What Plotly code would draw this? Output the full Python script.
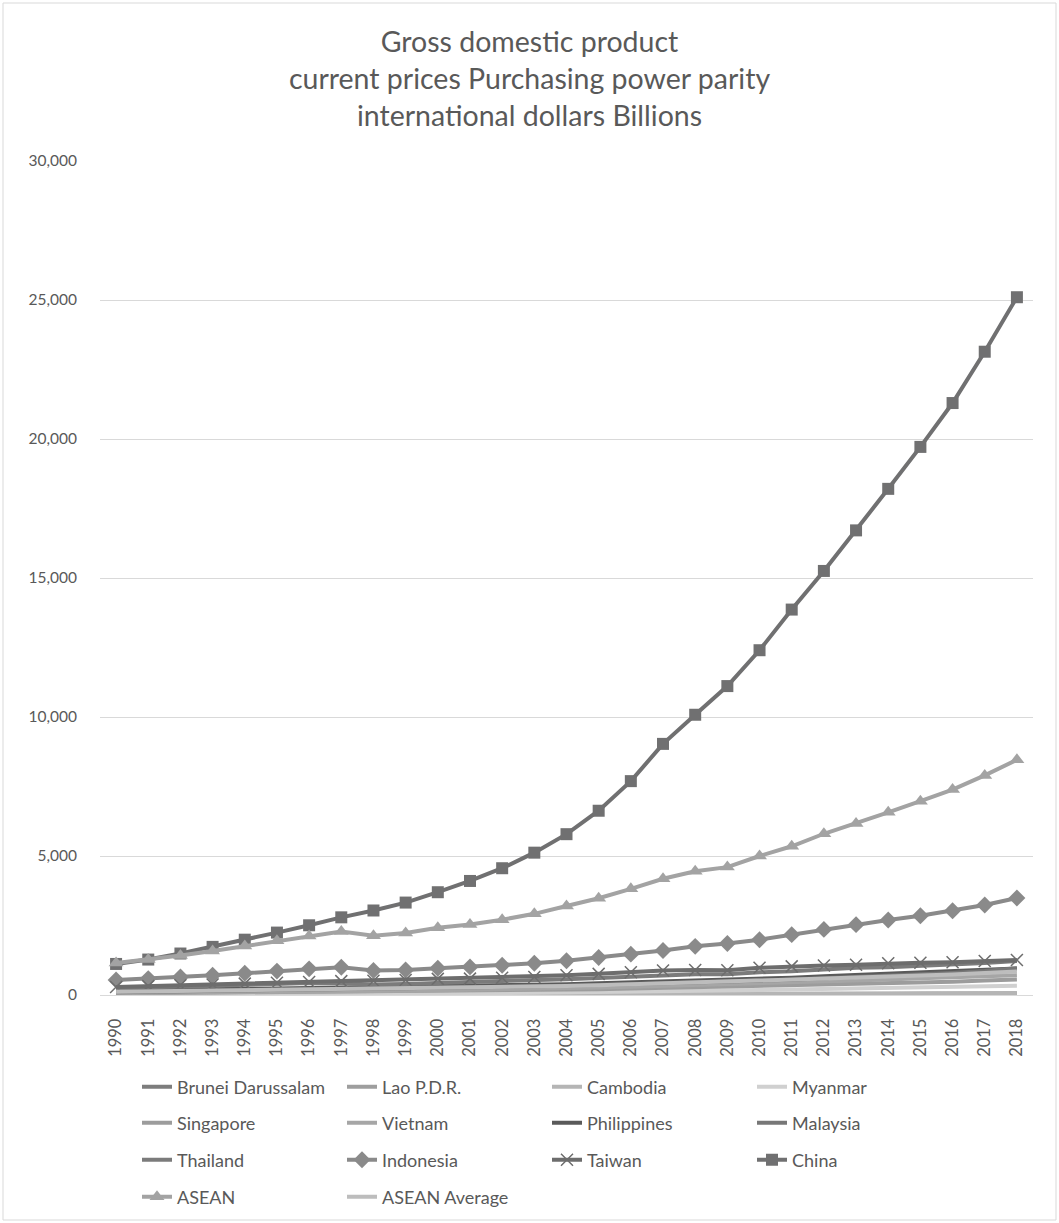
import plotly.graph_objects as go

years = [str(y) for y in range(1990, 2019)]

brunei = [14, 15, 15, 16, 16, 17, 18, 18, 18, 19, 20, 21, 22, 23, 24, 25, 26, 27, 27, 27, 28, 30, 31, 31, 31, 31, 32, 33, 34]
lao = [5, 5, 6, 6, 7, 8, 8, 9, 9, 10, 11, 12, 13, 14, 15, 17, 19, 21, 24, 26, 29, 32, 35, 38, 41, 44, 47, 50, 53]
cambodia = [6, 7, 8, 8, 9, 10, 11, 12, 12, 13, 15, 16, 18, 20, 23, 26, 30, 34, 37, 38, 42, 46, 50, 54, 58, 62, 65, 68, 72]
myanmar = [25, 26, 27, 30, 32, 35, 38, 41, 44, 48, 55, 62, 70, 80, 90, 100, 115, 130, 145, 160, 180, 200, 220, 240, 260, 280, 290, 310, 330]
singapore = [60, 68, 74, 82, 92, 100, 110, 120, 120, 128, 143, 146, 155, 168, 188, 210, 230, 255, 265, 270, 310, 340, 365, 390, 420, 450, 480, 520, 560]
vietnam = [70, 76, 84, 93, 103, 115, 128, 140, 148, 155, 170, 185, 200, 220, 245, 270, 300, 330, 355, 380, 420, 460, 500, 530, 560, 600, 640, 680, 710]
philippines = [180, 185, 195, 205, 220, 235, 255, 270, 275, 290, 310, 320, 340, 360, 390, 420, 450, 490, 520, 540, 580, 620, 670, 720, 770, 810, 860, 910, 950]
malaysia = [100, 115, 130, 150, 170, 190, 210, 225, 210, 220, 250, 260, 280, 300, 330, 360, 390, 430, 460, 460, 510, 550, 600, 640, 690, 740, 790, 860, 960]
thailand = [240, 270, 300, 330, 360, 400, 430, 420, 380, 400, 430, 450, 480, 530, 570, 610, 660, 720, 750, 750, 820, 850, 930, 980, 1000, 1040, 1090, 1150, 1220]
indonesia = [540, 590, 650, 710, 780, 860, 940, 1000, 880, 900, 960, 1010, 1070, 1140, 1230, 1350, 1470, 1600, 1750, 1850, 1990, 2170, 2360, 2530, 2700, 2850, 3030, 3240, 3490]
taiwan = [290, 320, 350, 380, 410, 440, 470, 500, 510, 540, 580, 590, 620, 650, 710, 760, 820, 880, 900, 890, 980, 1030, 1060, 1090, 1140, 1160, 1180, 1220, 1260]
china = [1117, 1275, 1492, 1731, 1990, 2245, 2508, 2794, 3040, 3325, 3697, 4102, 4560, 5120, 5785, 6628, 7693, 9033, 10081, 11112, 12402, 13864, 15254, 16713, 18207, 19716, 21293, 23140, 25100]
asean = [1150, 1280, 1420, 1580, 1760, 1950, 2120, 2280, 2130, 2230, 2420, 2540, 2710, 2920, 3200, 3480, 3820, 4180, 4450, 4600, 5000, 5350, 5800, 6170, 6570, 6970, 7390, 7900, 8460]
asean_avg = [115, 128, 142, 158, 176, 195, 212, 228, 213, 223, 242, 254, 271, 292, 320, 348, 382, 418, 445, 460, 500, 535, 580, 617, 657, 697, 739, 790, 846]

FONT = "Lato"
TEXT = "#595959"
W, H = 1059, 1223

# name, values, colour, marker symbol, legend row
series = [
    ("Brunei Darussalam", brunei, "#7d7d7d", None, "legend"),
    ("Lao P.D.R.", lao, "#9e9e9e", None, "legend"),
    ("Cambodia", cambodia, "#b5b5b5", None, "legend"),
    ("Myanmar", myanmar, "#d0d0d0", None, "legend"),
    ("Singapore", singapore, "#9c9c9c", None, "legend2"),
    ("Vietnam", vietnam, "#a6a6a6", None, "legend2"),
    ("Philippines", philippines, "#5a5a5a", None, "legend2"),
    ("Malaysia", malaysia, "#777777", None, "legend2"),
    ("Thailand", thailand, "#7b7b7b", None, "legend3"),
    ("Indonesia", indonesia, "#8a8a8a", "diamond", "legend3"),
    ("Taiwan", taiwan, "#6d6d6d", "x-thin-open", "legend3"),
    ("China", china, "#707071", "square", "legend3"),
    ("ASEAN", asean, "#a3a3a3", "triangle-up", "legend4"),
    ("ASEAN Average", asean_avg, "#bdbdbd", None, "legend4"),
]

fig = go.Figure()
for name, vals, color, symbol, leg in series:
    if symbol is None:
        mode = "lines"
        marker = None
    elif symbol == "x-thin-open":
        mode = "lines+markers"
        marker = dict(symbol=symbol, size=12, color=color, line=dict(color=color, width=1.5))
    else:
        mode = "lines+markers"
        marker = dict(symbol=symbol, size=13 if symbol != "square" else 12, color=color,
                      line=dict(width=0))
    fig.add_trace(go.Scatter(
        x=years, y=vals, name=name, mode=mode, legend=leg,
        line=dict(color=color, width=4), marker=marker,
    ))

# plot area: x 100..1033 px, y 161..995 px
L, R, T, B = 100, 26, 161, 228
PW, PH = W - L - R, H - T - B


def px_x(p):
    return (p - L) / PW


def px_y(p):
    return (H - B - p) / PH


legend_common = dict(
    orientation="h", xref="container", yref="container",
    xanchor="left", yanchor="middle",
    entrywidth=160, entrywidthmode="pixels",
    bgcolor="rgba(0,0,0,0)",
    font=dict(family=FONT, size=18, color=TEXT),
    itemclick=False, itemdoubleclick=False,
)
rows_y = [1087, 1123, 1160, 1197]
legend_x = 137 / W


def legend_row(i):
    return dict(legend_common, x=legend_x, y=1 - rows_y[i] / H)


fig.update_layout(
    width=W, height=H,
    margin=dict(l=L, r=R, t=T, b=B, autoexpand=False),
    paper_bgcolor="white", plot_bgcolor="white",
    title=dict(
        text="Gross domestic product<br>current prices Purchasing power parity<br>international dollars Billions",
        x=0.5, xanchor="center", y=1 - 52 / H, yanchor="middle",
        font=dict(family=FONT, size=28.5, color=TEXT),
    ),
    xaxis=dict(
        type="category", range=[-0.5, len(years) - 0.5], tickangle=-90, showgrid=False,
        showline=True, linecolor="#d9d9d9", linewidth=1,
        ticks="", tickfont=dict(family=FONT, size=16.5, color=TEXT),
        ticklabelstandoff=16, zeroline=False, automargin=False,
    ),
    yaxis=dict(
        range=[0, 30000], dtick=5000, tickformat=",d",
        showgrid=True, gridcolor="#d9d9d9", gridwidth=1,
        zeroline=False, showline=False, ticks="",
        tickfont=dict(family=FONT, size=15.5, color=TEXT),
        ticklabelstandoff=22, automargin=False,
    ),
    legend=legend_row(0),
    legend2=legend_row(1),
    legend3=legend_row(2),
    legend4=legend_row(3),
    showlegend=True,
)

# thin frame around the whole chart
fig.add_shape(
    type="rect", xref="paper", yref="paper",
    x0=px_x(3), x1=px_x(1056), y0=px_y(1220), y1=px_y(3),
    line=dict(color="#d9d9d9", width=1), fillcolor="rgba(0,0,0,0)", layer="below",
)

fig.write_html("out.html")
